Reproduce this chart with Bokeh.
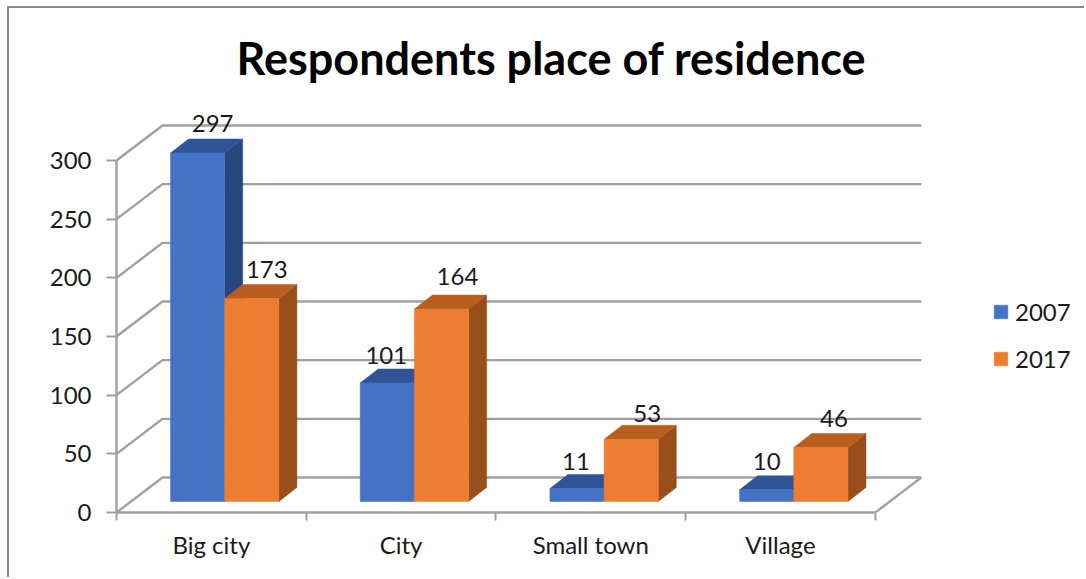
from bokeh.plotting import figure
from bokeh.embed import file_html
from bokeh.resources import INLINE
from bokeh.models import (ColumnDataSource, FixedTicker, Legend, LegendItem, Range1d,
                          LinearAxis)
from bokeh.core.properties import value

categories = ["Big city", "City", "Small town", "Village"]
values_2007 = [297, 101, 11, 10]
values_2017 = [173, 164, 53, 46]
series_names = ["2007", "2017"]
y_ticks = [0, 50, 100, 150, 200, 250, 300]
label_dx_2007 = [15, -1, -1, 0]
label_dy_2007 = [30, 27, 27, 28]
label_dx_2017 = [15, 16, 16, 13]
label_dy_2017 = [29, 33, 26, 29]

FONT = "Lato"
PX_X = 189.7           # px per category
PX_Y = 352 / 300       # px per value unit
FRAME_L, FRAME_R, FRAME_T, FRAME_B = 116, 1080, 100, 512
WALL_DX, WALL_DY = 46 / PX_X, 35 / PX_Y
BAR_DX, BAR_DY = 18 / PX_X, 14 / PX_Y
BAR_X0, BAR_W = 54 / PX_X, 54.2 / PX_X
BASE = 11 / PX_Y
OFFSET_L, OFFSET_T = 7, 6
BORDER = 2

W, H = 1077, 571
p = figure(width=W, height=H, output_backend="svg", toolbar_location=None,
           x_range=Range1d(0, (FRAME_R - FRAME_L) / PX_X),
           y_range=Range1d(0, (FRAME_B - FRAME_T) / PX_Y),
           min_border_left=FRAME_L - OFFSET_L - BORDER,
           min_border_right=OFFSET_L + BORDER + W - FRAME_R,
           min_border_top=FRAME_T - OFFSET_T - BORDER,
           min_border_bottom=OFFSET_T + BORDER + H - FRAME_B,
           x_axis_type=None, y_axis_type=None,
           title="Respondents place of residence")
p.margin = (OFFSET_T, 0, 0, OFFSET_L)
p.styles = {"border-top": "2px solid #8c8c8c", "border-left": "2px solid #8c8c8c"}
p.outline_line_color = None
p.grid.visible = False
p.title.text_font = FONT
p.title.text_font_size = "45px"
p.title.text_font_style = "bold"
p.title.text_color = "#000000"
p.title.align = "left"
p.title.offset = 120
p.title.standoff = 32

GREY = "#a0a0a0"
# walls and floor
xs, ys = [], []
for v in y_ticks:
    xs.append([0, WALL_DX, 4 + WALL_DX])
    ys.append([v, v + WALL_DY, v + WALL_DY])
p.multi_line(xs, ys, line_color=GREY, line_width=2.4)
p.line([4, 4 + WALL_DX], [0, WALL_DY], line_color=GREY, line_width=2.4)

# axes
ay = LinearAxis(ticker=FixedTicker(ticks=y_ticks), bounds=(0, 300))
ay.axis_line_color = GREY
ay.axis_line_width = 2.4
ay.major_tick_line_color = GREY
ay.major_tick_line_width = 2
ay.major_tick_out = 10
ay.major_tick_in = 0
ay.minor_tick_line_color = None
ay.major_label_text_font = FONT
ay.major_label_text_font_size = "24px"
ay.major_label_text_color = "#1a1a1a"
ay.major_label_standoff = 15
p.add_layout(ay, "left")

ax = LinearAxis(ticker=FixedTicker(ticks=[0.5, 1.5, 2.5, 3.5], minor_ticks=[0, 1, 2, 3, 4]),
                bounds=(0, 4))
ax.major_label_overrides = {i + 0.5: c for i, c in enumerate(categories)}
ax.axis_line_color = GREY
ax.axis_line_width = 2.4
ax.major_tick_line_color = None
ax.minor_tick_line_color = GREY
ax.minor_tick_line_width = 2
ax.minor_tick_out = 8
ax.minor_tick_in = 0
ax.major_label_text_font = FONT
ax.major_label_text_font_size = "24px"
ax.major_label_text_color = "#1a1a1a"
ax.major_label_standoff = 9
p.add_layout(ax, "below")

def draw_series(vals, shift, front, top, side):
    x0 = [i + BAR_X0 + shift * BAR_W for i in range(len(vals))]
    x1 = [a + BAR_W for a in x0]
    yt = [BASE + v for v in vals]
    p.patches([[b, b + BAR_DX, b + BAR_DX, b] for b in x1],
              [[BASE, BASE + BAR_DY, t + BAR_DY, t] for t in yt],
              fill_color=side, line_color=side, line_width=0.5)
    p.patches([[a, a + BAR_DX, b + BAR_DX, b] for a, b in zip(x0, x1)],
              [[t, t + BAR_DY, t + BAR_DY, t] for t in yt],
              fill_color=top, line_color=top, line_width=0.5)
    return p.quad(left=x0, right=x1, bottom=[BASE] * len(vals), top=yt,
                  fill_color=front, line_color=front, line_width=0.5)

r07 = draw_series(values_2007, 0, "#4472c4", "#2f5597", "#28477f")
r17 = draw_series(values_2017, 1, "#ed7d31", "#b85f1f", "#984f1c")

def draw_labels(vals, shift, dxs, dys):
    src = ColumnDataSource(dict(
        x=[i + BAR_X0 + (shift + 0.5) * BAR_W for i in range(len(vals))],
        y=[BASE + v for v in vals],
        t=[str(v) for v in vals],
        xo=dxs,
        yo=[-d for d in dys]))
    p.text("x", "y", text="t", source=src, x_offset="xo", y_offset="yo",
           text_font=value(FONT), text_font_size="24px", text_color="#1a1a1a",
           text_align="center", text_baseline="middle")

draw_labels(values_2007, 0, label_dx_2007, label_dy_2007)
draw_labels(values_2017, 1, label_dx_2017, label_dy_2017)

legend = Legend(items=[LegendItem(label=series_names[0], renderers=[r07]),
                       LegendItem(label=series_names[1], renderers=[r17])],
                location=(992 - FRAME_L, FRAME_B - 373),
                orientation="vertical", border_line_color=None,
                background_fill_alpha=0, padding=0, margin=0,
                glyph_width=17, glyph_height=17, label_standoff=6,
                label_text_font=FONT, label_text_font_size="24px",
                label_text_color="#1a1a1a", label_height=15, spacing=18)
p.add_layout(legend, "center")

open("out.html", "w").write(file_html(p, INLINE))
